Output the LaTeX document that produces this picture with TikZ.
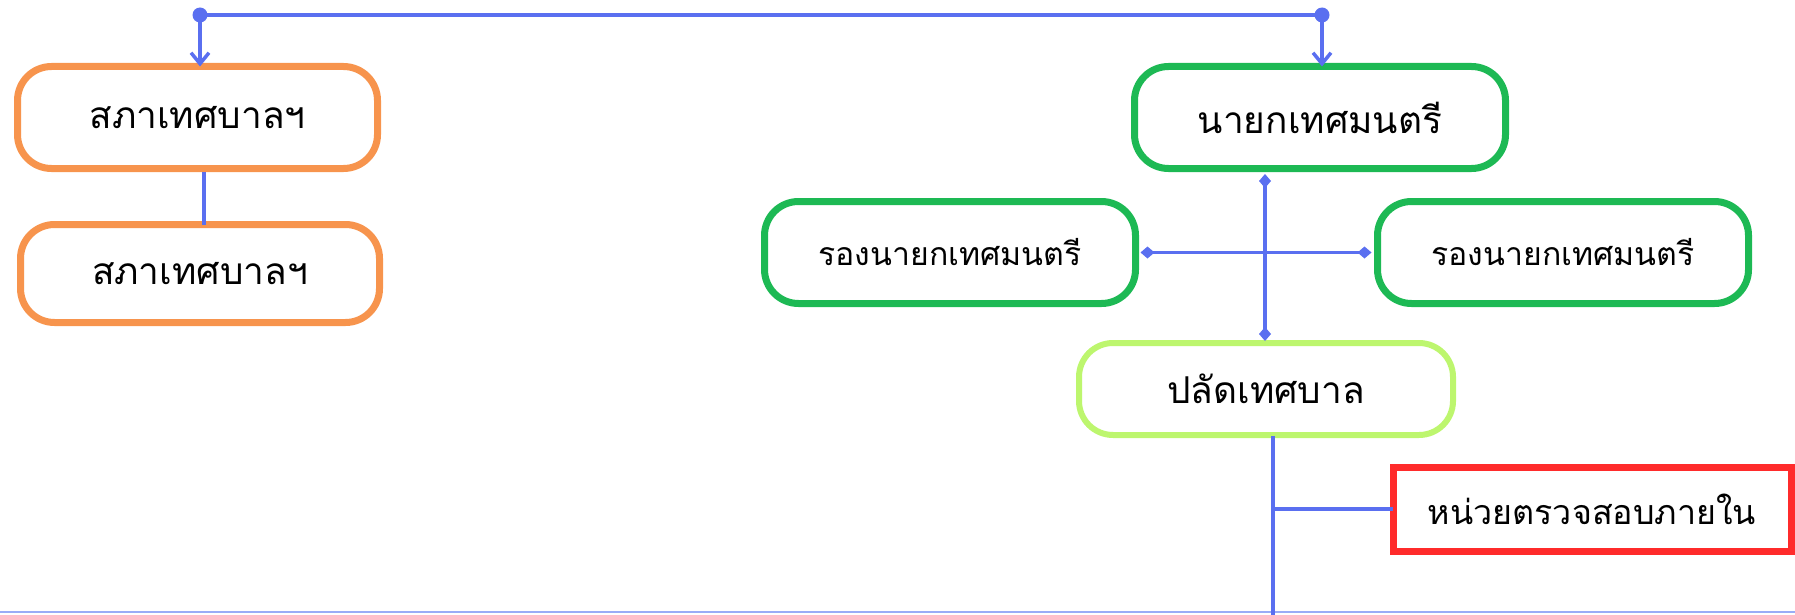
\documentclass[tikz,border=0pt]{standalone}
\usepackage{fontspec}
\newfontfamily\thaifont[Script=Thai]{Loma}
\usetikzlibrary{arrows.meta}
\definecolor{conn}{HTML}{5A6FF0}
\definecolor{orangeb}{HTML}{F7944D}
\definecolor{greenb}{HTML}{1DB954}
\definecolor{lgreenb}{HTML}{BDF66E}
\definecolor{redb}{HTML}{FF2B2B}
\definecolor{bottomline}{HTML}{9AACF6}
\tikzset{
  box/.style={draw, line width=7pt, rounded corners=34pt, fill=white, text=black,
    font=\thaifont\fontsize{37}{44}\selectfont, inner sep=0pt, outer sep=0pt},
  smalltext/.style={font=\thaifont\fontsize{32}{40}\selectfont},
  sqbox/.style={draw, line width=7pt, fill=white, text=black,
    font=\thaifont\fontsize{34}{40}\selectfont, inner sep=0pt, outer sep=0pt},
  link/.style={draw=conn, line width=3.5pt},
  dot/.style={circle, fill=conn, inner sep=0pt, minimum size=15pt},
  tip/.style={-{Straight Barb[length=11pt,width=18pt,line width=3.5pt]}},
  dia/.style={{Diamond[length=14pt,width=12pt]}-{Diamond[length=14pt,width=12pt]}},
}
\begin{document}
\begin{tikzpicture}[x=1pt,y=1pt]
\useasboundingbox (0,0) rectangle (1795,-615);
% bottom edge line
\coordinate (bl) at (0,-612);
\coordinate (br) at (1795,-612);
\draw[draw=bottomline, line width=2pt] (bl) -- (br);

\node[box, draw=orangeb, minimum width=360pt, minimum height=102pt] (s1) at (197.5,-117.5) {\raisebox{-4pt}{สภาเทศบาลฯ}};
\node[box, draw=orangeb, minimum width=359pt, minimum height=98pt] (s2) at (200,-273.5) {\raisebox{-4pt}{สภาเทศบาลฯ}};
\node[box, draw=greenb, minimum width=371pt, minimum height=102pt] (nayok) at (1320,-117.5) {\raisebox{-4pt}{นายกเทศมนตรี}};
\node[box, smalltext, draw=greenb, minimum width=371pt, minimum height=102pt] (rongL) at (950,-252.5) {\raisebox{-3pt}{รองนายกเทศมนตรี}};
\node[box, smalltext, draw=greenb, minimum width=371pt, minimum height=102pt] (rongR) at (1563,-252.5) {\raisebox{-3pt}{รองนายกเทศมนตรี}};
\node[box, draw=lgreenb, line width=6pt, minimum width=374pt, minimum height=92pt] (palad) at (1266,-389) {\raisebox{-3pt}{ปลัดเทศบาล}};
\node[sqbox, draw=redb, minimum width=398pt, minimum height=84pt] (red) at (1592,-509) {\raisebox{-3pt}{หน่วยตรวจสอบภายใน}};

% top connectors
\node[dot] (tl) at (200,-15) {};
\node[dot] (tr) at (1322,-15) {};
\draw[link] (tl.center) -- (tr.center);
\draw[link, tip] (tl.center) -- (tl.center |- s1.north);
\draw[link, tip] (tr.center) -- (tr.center |- nayok.north);

% sapha link
\draw[link] (204,-172) coordinate (s1b) -- (s2.north -| s1b);

% nayok to palad
\coordinate (nb) at (1265,-172);
\draw[link, dia, shorten <=2pt, shorten >=2pt] (nb) -- (nb |- palad.north);
% rong links
\draw[link, dia, shorten <=5pt, shorten >=6pt] (rongL.east) -- (rongR.west);

% palad down
\coordinate (pb) at (1273,-436);
\coordinate (pend) at (1273,-615);
\draw[link] (pb) -- (pend);
\draw[link] (pb |- red.west) -- (red.west);
\end{tikzpicture}
\end{document}
